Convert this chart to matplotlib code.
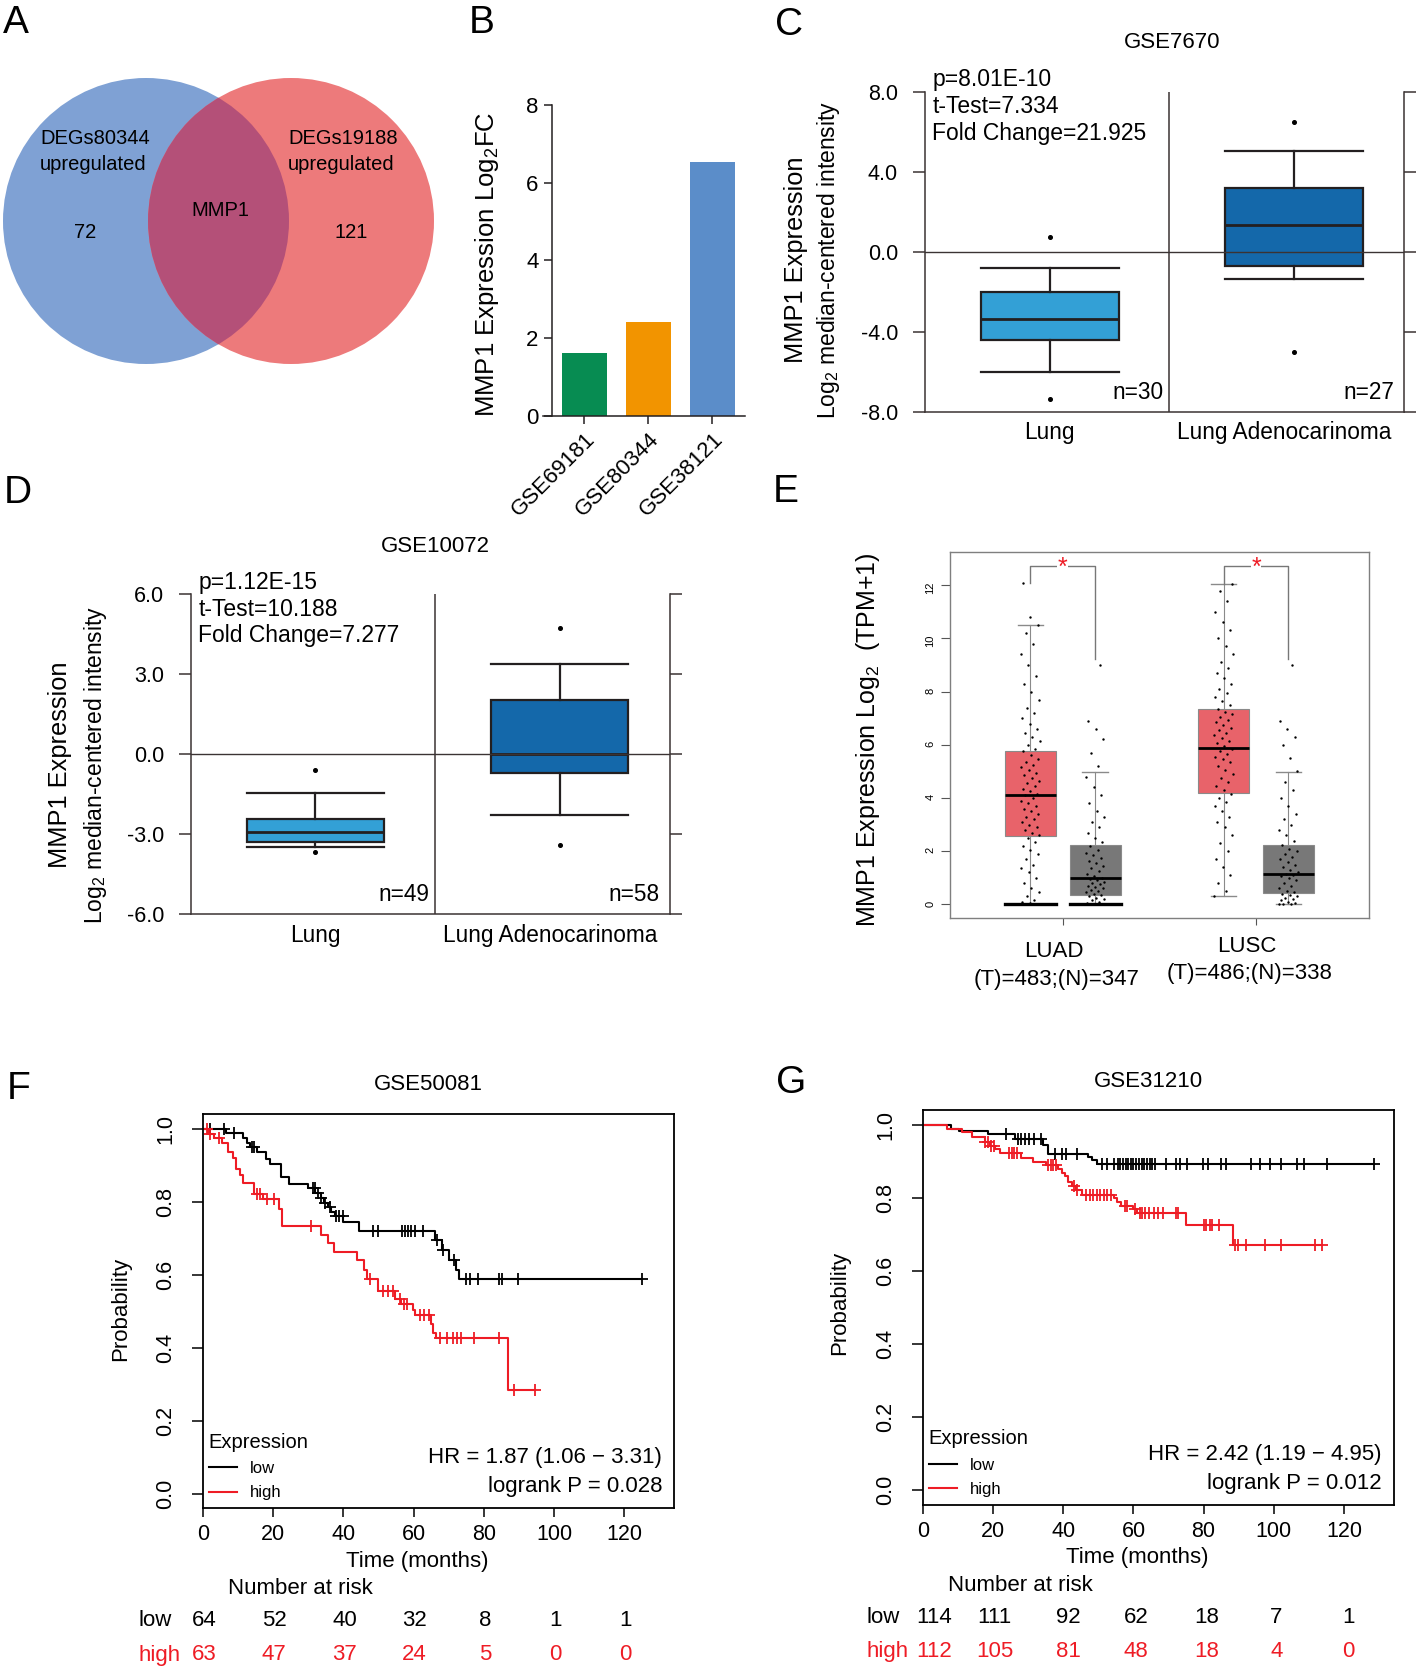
import numpy as np
import matplotlib
matplotlib.use('Agg')
import matplotlib.pyplot as plt
from matplotlib.patches import Circle
from matplotlib.ticker import FormatStrFormatter

plt.rcParams['font.family'] = ['Liberation Sans', 'DejaVu Sans']
plt.rcParams['mathtext.fontset'] = 'custom'
plt.rcParams['mathtext.rm'] = 'Liberation Sans'
plt.rcParams['mathtext.default'] = 'rm'
plt.rcParams['axes.unicode_minus'] = False

W, H = 1418, 1670
INK = '#231F20'

# ---------------- data ----------------
# A: venn
venn_names = ['DEGs80344', 'DEGs19188']
venn_only = [72, 121]
venn_shared = 'MMP1'

# B: log2 fold change
fc_sets = ['GSE69181', 'GSE80344', 'GSE38121']
fc_values = [1.62, 2.42, 6.54]
fc_colors = ['#078C52', '#F29400', '#5B8DC9']

# C: GSE7670
c_groups = ['Lung', 'Lung Adenocarinoma']
c_n = [30, 27]
c_med = [-3.38, 1.33]
c_q1 = [-4.42, -0.70]
c_q3 = [-2.03, 3.17]
c_lo = [-6.00, -1.38]
c_hi = [-0.83, 5.03]
c_out = [[0.72, -7.38], [6.50, -5.00]]
c_stats = ['p=8.01E-10', 't-Test=7.334', 'Fold Change=21.925']

# D: GSE10072
d_groups = ['Lung', 'Lung Adenocarinoma']
d_n = [49, 58]
d_med = [-2.91, 0.00]
d_q1 = [-3.31, -0.70]
d_q3 = [-2.45, 2.01]
d_lo = [-3.50, -2.29]
d_hi = [-1.45, 3.39]
d_out = [[-0.60, -3.66], [4.73, -3.41]]
d_stats = ['p=1.12E-15', 't-Test=10.188', 'Fold Change=7.277']

# E: TCGA tumor / normal
e_cancers = ['LUAD', 'LUSC']
e_counts = ['(T)=483;(N)=347', '(T)=486;(N)=338']
e_med = [4.11, 1.00, 5.89, 1.15]
e_q1 = [2.58, 0.35, 4.17, 0.41]
e_q3 = [5.76, 2.23, 7.34, 2.25]
e_lo = [0.00, 0.00, 0.33, 0.00]
e_hi = [10.50, 4.96, 12.05, 4.96]
e_zero_pile = [True, True, False, False]
e_bracket_start = [12.10, 12.05]
e_bracket_end = [9.24, 9.24]
e_bracket_top = 12.71
luad_t_pts = [0.0, 0.0, 0.0, 0.02, 0.05, 0.1, 0.15, 0.3, 0.45, 0.6, 0.8, 1.0, 1.2, 1.35, 1.5, 1.7,
              1.9, 2.05, 2.2, 2.35, 2.5, 2.6, 2.7, 2.8, 2.9, 3.0, 3.1, 3.2, 3.3, 3.4, 3.5, 3.6,
              3.7, 3.8, 3.9, 4.0, 4.1, 4.15, 4.25, 4.35, 4.45, 4.55, 4.65, 4.75, 4.85, 4.95, 5.05,
              5.15, 5.25, 5.35, 5.45, 5.6, 5.75, 5.85, 6.0, 6.15, 6.3, 6.45, 6.6, 6.8, 7.0, 7.2,
              7.4, 7.7, 8.0, 8.3, 8.6, 9.0, 9.4, 9.8, 10.2, 10.5, 10.8, 12.1]
luad_n_pts = [0.0, 0.0, 0.0, 0.0, 0.02, 0.05, 0.1, 0.15, 0.2, 0.25, 0.3, 0.35, 0.4, 0.45, 0.5,
              0.55, 0.6, 0.65, 0.7, 0.75, 0.8, 0.85, 0.9, 0.95, 1.0, 1.05, 1.15, 1.25, 1.35, 1.45,
              1.55, 1.65, 1.75, 1.85, 1.95, 2.05, 2.2, 2.35, 2.5, 2.7, 2.9, 3.1, 3.3, 3.5, 3.8,
              4.1, 4.4, 4.8, 5.2, 5.7, 6.2, 6.6, 6.9, 9.0]
lusc_t_pts = [0.33, 0.5, 0.8, 1.1, 1.4, 1.7, 2.0, 2.3, 2.6, 2.9, 3.1, 3.3, 3.5, 3.7, 3.85, 4.0,
              4.15, 4.3, 4.45, 4.6, 4.75, 4.9, 5.05, 5.2, 5.35, 5.45, 5.55, 5.65, 5.75, 5.85,
              5.95, 6.05, 6.15, 6.25, 6.35, 6.45, 6.55, 6.65, 6.75, 6.85, 6.95, 7.05, 7.15, 7.25,
              7.35, 7.5, 7.65, 7.8, 7.95, 8.1, 8.3, 8.5, 8.7, 8.9, 9.1, 9.4, 9.7, 10.0, 10.3,
              10.6, 11.0, 11.4, 11.8, 12.05]
lusc_n_pts = [0.0, 0.0, 0.0, 0.05, 0.1, 0.15, 0.2, 0.25, 0.3, 0.35, 0.4, 0.45, 0.5, 0.6, 0.7,
              0.8, 0.9, 1.0, 1.05, 1.1, 1.15, 1.2, 1.3, 1.4, 1.5, 1.6, 1.7, 1.8, 1.9, 2.0, 2.1,
              2.25, 2.4, 2.6, 2.8, 3.0, 3.2, 3.4, 3.7, 4.0, 4.3, 4.6, 5.0, 5.5, 6.0, 6.3, 6.6,
              6.9, 9.0]

# F: GSE50081 Kaplan-Meier
f_low_t = [6.5, 11.5, 12.5, 13.5, 15.5, 18.0, 19.0, 22.3, 24.4, 30.0, 32.0, 33.5, 34.5, 35.5,
           36.5, 37.5, 40.0, 44.5, 66.0, 68.0, 70.0, 72.2, 73.0]
f_low_s = [0.988, 0.975, 0.962, 0.950, 0.937, 0.917, 0.903, 0.869, 0.850, 0.837, 0.824, 0.811,
           0.798, 0.785, 0.772, 0.760, 0.745, 0.720, 0.695, 0.668, 0.640, 0.613, 0.588]
f_low_c = [1.9, 6.1, 8.9, 14.0, 14.6, 31.2, 31.8, 32.7, 33.7, 34.7, 36.3, 37.8, 38.8, 39.8, 48.4,
           50.0, 56.6, 57.6, 58.5, 59.4, 60.4, 62.7, 66.6, 68.5, 71.6, 75.0, 76.0, 78.3, 84.4,
           85.3, 89.7, 125.1]
f_high_t = [1.5, 3.0, 5.5, 7.0, 8.5, 9.5, 10.5, 11.5, 14.6, 17.2, 21.6, 22.5, 33.7, 35.6, 37.3,
            43.9, 45.8, 46.6, 50.0, 54.7, 56.5, 59.8, 60.4, 64.9, 65.5, 66.5, 86.9]
f_high_s = [0.987, 0.975, 0.962, 0.936, 0.919, 0.890, 0.874, 0.853, 0.822, 0.808, 0.780, 0.735,
            0.710, 0.688, 0.664, 0.640, 0.613, 0.590, 0.555, 0.535, 0.520, 0.505, 0.490, 0.465,
            0.440, 0.427, 0.284]
f_high_c = [1.0, 2.0, 4.5, 15.5, 16.3, 18.2, 20.3, 30.8, 47.5, 51.3, 52.6, 54.0, 56.0, 57.3, 58.2,
            61.7, 63.0, 64.3, 67.4, 69.4, 71.3, 72.5, 73.4, 77.2, 84.4, 88.7, 94.6]
f_risk_low = [64, 52, 40, 32, 8, 1, 1]
f_risk_high = [63, 47, 37, 24, 5, 0, 0]
f_hr = ['HR = 1.87 (1.06 \u2212 3.31)', 'logrank P = 0.028']

# G: GSE31210 Kaplan-Meier
g_low_t = [8.0, 10.2, 18.6, 26.2, 34.2, 35.5, 47.0, 48.3, 49.6]
g_low_s = [0.991, 0.983, 0.975, 0.962, 0.946, 0.922, 0.912, 0.904, 0.895]
g_low_c = [23.8, 27.1, 27.8, 29.0, 30.3, 31.7, 33.6, 37.5, 39.5, 40.8, 44.0, 50.9, 52.5, 54.5,
           55.5, 56.3, 57.0, 57.8, 58.5, 59.3, 60.0, 60.8, 61.5, 62.3, 63.0, 63.8, 64.6, 65.4,
           66.2, 69.2, 72.0, 73.4, 75.3, 79.9, 81.2, 85.1, 86.4, 93.5, 96.2, 98.8, 102.0, 106.6,
           108.5, 115.3, 128.7]
g_high_t = [6.9, 11.0, 14.0, 17.6, 19.0, 20.5, 21.9, 27.8, 31.4, 35.0, 38.5, 39.5, 40.5, 41.4,
            42.5, 43.6, 45.2, 54.5, 55.2, 56.4, 60.0, 61.0, 75.0, 88.3]
g_high_s = [0.990, 0.982, 0.967, 0.955, 0.944, 0.935, 0.925, 0.910, 0.900, 0.890, 0.880, 0.870,
            0.860, 0.845, 0.833, 0.822, 0.810, 0.800, 0.790, 0.780, 0.770, 0.760, 0.727, 0.671]
g_high_c = [17.8, 18.5, 19.5, 20.2, 24.5, 25.3, 26.0, 26.8, 35.5, 36.5, 37.2, 38.0, 43.0, 44.0,
            46.5, 47.5, 48.5, 49.5, 50.5, 51.5, 52.5, 53.5, 57.5, 58.2, 60.5, 61.8, 62.5, 63.3,
            64.5, 65.8, 67.0, 68.5, 72.0, 72.8, 80.0, 80.8, 81.7, 82.5, 84.5, 89.0, 89.8, 92.2,
            97.5, 102.0, 111.8, 113.7]
g_risk_low = [114, 111, 92, 62, 18, 7, 1]
g_risk_high = [112, 105, 81, 48, 18, 4, 0]
g_hr = ['HR = 2.42 (1.19 \u2212 4.95)', 'logrank P = 0.012']

risk_times = [0, 20, 40, 60, 80, 100, 120]
KM_RED = '#EE1C25'

# ---------------- figure ----------------
fig = plt.figure(figsize=(W / 100, H / 100), dpi=100)


def px_axes(l, t, r, b):
    return fig.add_axes([l / W, 1 - b / H, (r - l) / W, (b - t) / H])


canvas = fig.add_axes([0, 0, 1, 1], zorder=10)
canvas.set_xlim(0, W)
canvas.set_ylim(H, 0)
canvas.axis('off')


def put(x, y, s, **kw):
    kw.setdefault('ha', 'center')
    kw.setdefault('va', 'center')
    canvas.text(x, y, s, **kw)


# panel letters
for letter, x, y in [('A', 3, 33), ('B', 469, 33), ('C', 775, 35), ('D', 4, 503),
                     ('E', 773, 502), ('F', 7, 1099), ('G', 776, 1093)]:
    canvas.text(x, y, letter, fontsize=28, ha='left', va='baseline')

# ---- A: venn ----
left = Circle((146, 221), 143, color='#7FA1D4', lw=0)
right = Circle((291, 221), 143, color='#ED7A7B', lw=0)
both = Circle((291, 221), 143, color='#B45078', lw=0)
canvas.add_patch(left)
canvas.add_patch(right)
canvas.add_patch(both)
both.set_clip_path(left)
for name, cnt, x0, xc in zip(venn_names, venn_only, [40, 288], [85, 351]):
    put(x0, 139, name, ha='left', fontsize=14.5)
    put(x0, 164, 'upregulated', ha='left', fontsize=14.5)
    put(xc, 232, str(cnt), fontsize=14.5)
put(220, 211, venn_shared, fontsize=14.5)

# ---- B: bar chart ----
axb = px_axes(543, 105, 745, 415.5)
xb = np.arange(len(fc_sets))
axb.bar(xb, fc_values, width=0.71, color=fc_colors)
axb.set_xlim(-0.648, 2.508)
axb.set_ylim(0, 8)
axb.spines['left'].set_position(('data', -0.5125))
axb.spines[['top', 'right']].set_visible(False)
for sp in axb.spines.values():
    sp.set_linewidth(1.1)
    sp.set_color(INK)
axb.set_yticks([0, 2, 4, 6, 8])
axb.set_xticks(xb)
axb.set_xticklabels(fc_sets, rotation=45, ha='right', rotation_mode='anchor')
axb.tick_params(length=6, width=1.1, labelsize=16, color=INK)
put(487, 264, 'MMP1 Expression Log$_2$FC', rotation=90, fontsize=18.5)


# ---- C / D: oncomine boxplots ----
def oncomine(box, groups, n, med, q1, q3, lo, hi, out, stats, ylim, yticks):
    ax = px_axes(*box)
    pos = [0.52, 1.54]
    bstats = [dict(med=med[i], q1=q1[i], q3=q3[i], whislo=lo[i], whishi=hi[i], fliers=out[i])
              for i in range(2)]
    bp = ax.bxp(bstats, positions=pos, widths=0.576, capwidths=0.576, patch_artist=True,
                boxprops=dict(linewidth=1.6, edgecolor=INK),
                medianprops=dict(color=INK, linewidth=2.0),
                whiskerprops=dict(color=INK, linewidth=1.6),
                capprops=dict(color=INK, linewidth=1.6),
                flierprops=dict(marker='o', markersize=2.6, markerfacecolor='k',
                                markeredgecolor='k'),
                manage_ticks=False)
    for patch, col in zip(bp['boxes'], ['#33A0D6', '#1468AA']):
        patch.set_facecolor(col)
    ax.axhline(0, color='#3B3333', lw=1.0, zorder=5)
    ax.axvline(1.02, color='#3B3333', lw=1.1)
    ax.set_xlim(0, 2)
    ax.set_ylim(*ylim)
    ax.spines['top'].set_visible(False)
    for sp in ax.spines.values():
        sp.set_linewidth(1.1)
        sp.set_color('#3B3333')
    ax.set_yticks(yticks)
    ax.yaxis.set_major_formatter(FormatStrFormatter('%.1f'))
    ax.tick_params(axis='y', length=8.5, width=1.1, right=True, labelsize=15.5, pad=11,
                   color='#3B3333')
    # group names sit slightly left of the second box, as in the source figure
    ax.set_xticks([0.52, 1.5])
    ax.set_xticklabels(groups)
    ax.tick_params(axis='x', length=0, labelsize=16.3, pad=7)
    for s, yf in zip(stats, [1.037, 0.953, 0.869]):
        ax.text(0.015, yf, s, transform=ax.transAxes, fontsize=16.5, va='center', ha='left')
    for k, xf in zip(n, [0.498, 0.98]):
        ax.text(xf, 0.06, 'n=%d' % k, transform=ax.transAxes, fontsize=16.3,
                va='center', ha='right')
    return ax


oncomine((925, 91.7, 1404, 411.7), c_groups, c_n, c_med, c_q1, c_q3, c_lo, c_hi, c_out,
         c_stats, (-8, 8), [-8, -4, 0, 4, 8])
put(1172, 43, 'GSE7670', fontsize=16)
put(796, 260, 'MMP1 Expression', rotation=90, fontsize=18.3)
put(829, 260, 'Log$_2$ median-centered intensity', rotation=90, fontsize=16.5)

oncomine((191, 594, 669.6, 914), d_groups, d_n, d_med, d_q1, d_q3, d_lo, d_hi, d_out,
         d_stats, (-6, 6), [-6, -3, 0, 3, 6])
put(435, 547, 'GSE10072', fontsize=16)
put(60, 765, 'MMP1 Expression', rotation=90, fontsize=18.3)
put(96, 765, 'Log$_2$ median-centered intensity', rotation=90, fontsize=16.5)

# ---- E: TCGA boxplots with points ----
axe = px_axes(950, 551.7, 1368.7, 917.7)
e_pos = [0.832, 1.168, 1.832, 2.168]
e_pts = [luad_t_pts, luad_n_pts, lusc_t_pts, lusc_n_pts]
bw = 0.263
bstats = [dict(med=e_med[i], q1=e_q1[i], q3=e_q3[i], whislo=e_lo[i], whishi=e_hi[i], fliers=[])
          for i in range(4)]
bp = axe.bxp(bstats, positions=e_pos, widths=bw, capwidths=bw / 2, patch_artist=True,
             boxprops=dict(linewidth=0.8, edgecolor='#8A8A8A'),
             medianprops=dict(color='k', linewidth=2.0),
             whiskerprops=dict(color='#8A8A8A', linewidth=0.8),
             capprops=dict(color='#8A8A8A', linewidth=1.0),
             manage_ticks=False)
for patch, col in zip(bp['boxes'], ['#E8636A', '#787878', '#E8636A', '#787878']):
    patch.set_facecolor(col)
for line in bp['medians']:
    line.set_zorder(6)
for p, pts, lo, pile in zip(e_pos, e_pts, e_lo, e_zero_pile):
    jit = ((np.arange(len(pts)) * 0.6180339887) % 1 - 0.5) * 0.1
    axe.scatter(p + jit, pts, s=3, c='k', lw=0, zorder=5)
    if pile:
        axe.plot([p - bw / 2, p + bw / 2], [lo, lo], color='k', lw=2.4, zorder=6)
for i, c in enumerate([1, 2]):
    xl, xr = e_pos[2 * i], e_pos[2 * i + 1]
    axe.plot([xl, xl, xr, xr], [e_bracket_start[i], e_bracket_top, e_bracket_top,
                                e_bracket_end[i]], color='#777777', lw=1.0)
    axe.text(c, e_bracket_top - 0.05, '*', color='#EE1C25', fontsize=18, ha='center',
             va='center', bbox=dict(fc='white', ec='none', pad=0.3))
axe.set_xlim(0.417, 2.583)
axe.set_ylim(-0.5, 13.26)
for sp in axe.spines.values():
    sp.set_linewidth(1.0)
    sp.set_color('#7F7F7F')
axe.set_yticks([0, 2, 4, 6, 8, 10, 12])
axe.tick_params(axis='y', labelrotation=90, labelsize=8, length=6.5, width=0.8, pad=4,
                color='#555555')
axe.set_xticks([1, 2])
axe.set_xticklabels([])
axe.tick_params(axis='x', length=5, width=0.8, color='#555555')
put(867.5, 740, 'MMP1 Expression Log$_2$  (TPM+1)', rotation=90, fontsize=18)
for name, cnt, x, y1, y2 in zip(e_cancers, e_counts, [1054, 1247], [951.7, 946.7], [979, 973]):
    put(x, y1, name, fontsize=16)
    put(x + 3, y2, cnt, fontsize=16)


# ---- F / G: Kaplan-Meier ----
def km_curve(ax, drop_t, drop_s, cens_t, color):
    t = np.concatenate([[0.0], drop_t])
    s = np.concatenate([[1.0], drop_s])
    end = max(cens_t[-1], drop_t[-1])
    line, = ax.step(np.append(t, end), np.append(s, s[-1]), where='post', color=color, lw=1.5)
    idx = np.searchsorted(t, cens_t, side='right') - 1
    ax.plot(cens_t, s[idx], '+', color=color, ms=8, mew=1.3)
    return line


def km_panel(box, low, high, risk_low, risk_high, hr, row_y, shift):
    l, t, r, b = box
    ax = px_axes(l, t, r, b)
    h_low = km_curve(ax, *low, 'k')
    h_high = km_curve(ax, *high, KM_RED)
    ax.set_xlim(0, 134.2)
    ax.set_ylim(-0.0395, 1.0416)
    for sp in ax.spines.values():
        sp.set_linewidth(1.3)
    ax.set_xticks(risk_times)
    ax.set_yticks([0, 0.2, 0.4, 0.6, 0.8, 1.0])
    ax.yaxis.set_major_formatter(FormatStrFormatter('%.1f'))
    ax.tick_params(axis='y', labelrotation=90, length=8, width=1.1, labelsize=15.5, pad=11)
    ax.tick_params(axis='x', length=6.5, width=1.1, labelsize=15.5, pad=5)
    for lab in ax.get_yticklabels():
        lab.set_va('center')
    leg = ax.legend([h_low, h_high], ['low', 'high'], title='Expression', loc='lower left',
                    bbox_to_anchor=(0.012, 0.02), frameon=False, fontsize=12,
                    title_fontsize=14.5, handlelength=1.7, handletextpad=0.75,
                    labelspacing=0.55, borderpad=0, borderaxespad=0, alignment='left')
    leg._legend_handle_box.set_offset(lambda w, h, x, y, r: (x + 4, y))
    ax.text(0.975, 0.128, hr[0], transform=ax.transAxes, ha='right', va='center', fontsize=16)
    ax.text(0.975, 0.0545, hr[1], transform=ax.transAxes, ha='right', va='center', fontsize=16)
    tr = ax.get_xaxis_transform()
    y_low = -(row_y[0] - b) / (b - t)
    y_high = -(row_y[1] - b) / (b - t)
    for tt, dx, nl, nh in zip(risk_times, shift, risk_low, risk_high):
        ax.text(tt + dx, y_low, str(nl), transform=tr, ha='center', va='center', fontsize=16)
        ax.text(tt + dx, y_high, str(nh), transform=tr, ha='center', va='center', fontsize=16,
                color=KM_RED)
    return ax


km_panel((203, 1113.7, 674, 1508.3), (f_low_t, f_low_s, f_low_c), (f_high_t, f_high_s, f_high_c),
         f_risk_low, f_risk_high, f_hr, (1620, 1655), [0.3] * 7)
put(428.6, 1085, 'GSE50081', fontsize=16)
put(120.5, 1309, 'Probability', rotation=90, fontsize=16)
put(417, 1562, 'Time (months)', fontsize=16)
put(300, 1589, 'Number at risk', fontsize=16)
put(138, 1620, 'low', ha='left', fontsize=16)
put(138, 1655, 'high', ha='left', fontsize=16, color=KM_RED)

km_panel((923, 1110.1, 1393.7, 1504.7), (g_low_t, g_low_s, g_low_c),
         (g_high_t, g_high_s, g_high_c), g_risk_low, g_risk_high, g_hr, (1617.4, 1651.8),
         [3.2, 0.4, 1.4, 0.8, 0.9, 0.7, 1.4])
put(1148.7, 1081.6, 'GSE31210', fontsize=16)
put(839.7, 1303, 'Probability', rotation=90, fontsize=16)
put(1137, 1558, 'Time (months)', fontsize=16)
put(1020.5, 1585.8, 'Number at risk', fontsize=16)
put(866, 1617.4, 'low', ha='left', fontsize=16)
put(866, 1651.8, 'high', ha='left', fontsize=16, color=KM_RED)

fig.savefig('out.png', dpi=100)
